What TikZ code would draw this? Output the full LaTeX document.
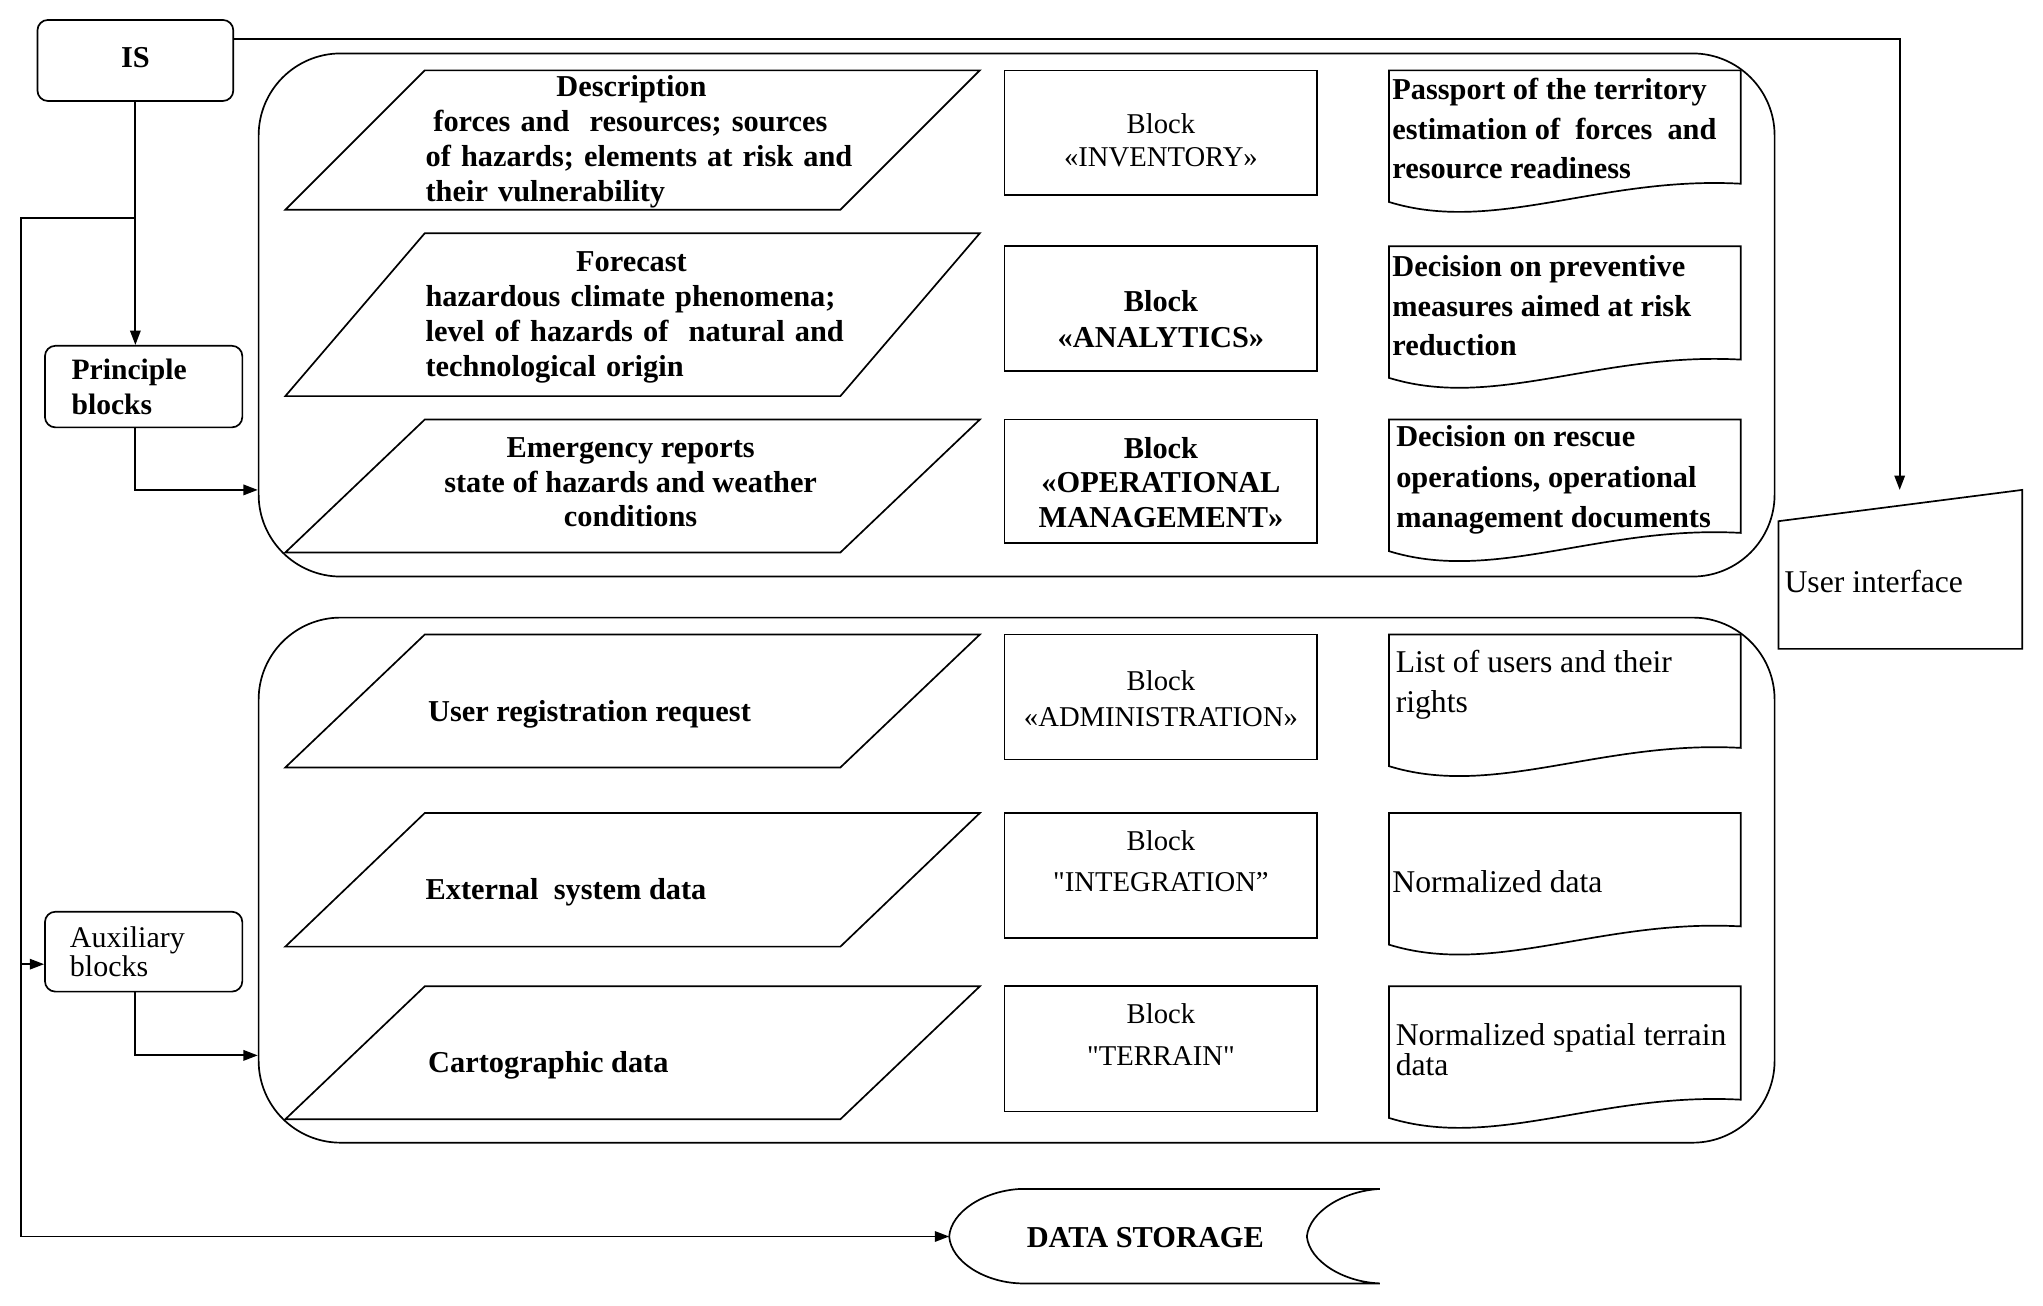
\documentclass[tikz,border=0pt]{standalone}
\usepackage{fontspec}
\setmainfont{Liberation Serif}
\newfontfamily\rawq{Liberation Serif}
\usetikzlibrary{arrows.meta}
\newcommand\setfs[2]{\fontsize{#1pt}{#2pt}\selectfont}
\newcommand\sq{{\rawq"}}
\newcommand\parashape[2]{\draw (219,#2) -- (326,#1) -- (752,#1) -- (645,#2) -- cycle;}
\newcommand\docshape[1]{\draw (1066,#1) -- (1336,#1) -- (1336,#1+87) .. controls (1228,#1+81) and (1147,#1+126) .. (1066,#1+101) -- cycle;}
\begin{document}
\begin{tikzpicture}[x=1pt,y=-1pt,line width=1.3pt,
  txt/.style={inner sep=0pt},
  arr/.style={-{Triangle[length=11pt,width=8pt]},line width=1.4pt},
  grp/.style={draw,rounded corners=63pt,minimum width=1163.5pt,inner sep=0pt},
  blk/.style={draw,minimum width=240pt,inner sep=0pt},
  rbox/.style={draw,rounded corners=8pt,minimum width=151.5pt,inner ysep=0pt,align=left},
  bt/.style={txt,font=\setfs{23.3}{#1}\bfseries},
  rt/.style={txt,font=\setfs{22}{#1}},
  dt/.style={txt,font=\setfs{24.3}{#1}},
]
\fill[white] (0,0) rectangle (1568,1001.6);
\useasboundingbox (0,0) rectangle (1568,1001.6);

% ---- left column ----
\node[draw,rounded corners=8pt,minimum width=150.3pt,minimum height=62.2pt,inner sep=0pt,
      font=\setfs{23.3}{27}\bfseries] (is) at (103.9,46.4) {\raisebox{5pt}{IS}};
\node[rbox,minimum height=62.6pt,inner xsep=20.5pt,text width=110.5pt,
      font=\setfs{22.7}{26.9}\bfseries] (pri) at (110.25,296.7) {Principle\\blocks};
\node[rbox,minimum height=61.3pt,inner xsep=19.2pt,text width=113.1pt,
      font=\setfs{23}{21.7}] (aux) at (110.25,730.4) {Auxiliary\\blocks};

% ---- groups ----
\node[grp,minimum height=401.5pt] (upper) at (780.25,241.75) {};
\node[grp,minimum height=403pt] (lower) at (780.25,675.5) {};

% ---- parallelograms ----
\parashape{54}{161}
\parashape{179}{304}
\parashape{322}{424}
\parashape{487}{589}
\parashape{624}{726.5}
\parashape{757}{859}

\node[bt=27,anchor=west,text width=340pt,align=left] (p1t) at (326,108.75)
  {\makebox[316pt]{Description}\\\hspace*{6pt}forces and~ resources; sources\\of hazards; elements at risk and\\their vulnerability};
\node[bt=27,anchor=west,text width=340pt,align=left] (p2t) at (326,243.5)
  {\makebox[316pt]{Forecast}\\hazardous climate phenomena;\\level of hazards of~ natural and\\technological origin};
\node[bt=26.5,align=center] (p3t) at (484,370.3)
  {Emergency reports\\state of hazards and weather\\conditions};
\node[bt=27,anchor=base west] (p4t) at (328,553.8) {User registration request};
\node[bt=27,anchor=base west] (p5t) at (326,690.2) {External~ system data};
\node[bt=27,anchor=base west] (p6t) at (328,823.2) {Cartographic data};

% ---- blocks ----
\node[blk,minimum height=95.5pt] (b1) at (891,101.75) {};
\node[blk,minimum height=96pt] (b2) at (891,237) {};
\node[blk,minimum height=95pt] (b3) at (891,369.5) {};
\node[blk,minimum height=96pt] (b4) at (891,535) {};
\node[blk,minimum height=96pt] (b5) at (891,672) {};
\node[blk,minimum height=96pt] (b6) at (891,805) {};

\node[rt=25.6,align=center] (b1t) at (891,107.5) {Block\\«INVENTORY»};
\node[bt=28,align=center] (b2t) at (891,245) {Block\\«ANALYTICS»};
\node[bt=26.5,align=center] (b3t) at (891,370.3) {Block\\«OPERATIONAL\\MANAGEMENT»};
\node[rt=27.7,align=center] (b4t) at (891,536) {Block\\«ADMINISTRATION»};
\node[rt=31.5,align=center] (b5t) at (891,660.8) {Block\\\sq INTEGRATION”};
\node[rt=31.5,align=center] (b6t) at (891,794) {Block\\\sq TERRAIN\sq};

% ---- documents ----
\docshape{54}
\docshape{189}
\docshape{322}
\docshape{487}
\docshape{624}
\docshape{757}

\node[bt=30.5,anchor=west,align=left] (d1t) at (1068,98.7)
  {Passport of the territory\\estimation of~ forces~ and\\resource readiness};
\node[bt=30.5,anchor=west,align=left] (d2t) at (1068,234.7)
  {Decision on preventive\\measures aimed at risk\\reduction};
\node[bt=31,anchor=west,align=left] (d3t) at (1071,368.3)
  {Decision on rescue\\operations, operational\\management documents};
\node[dt=31,anchor=west,align=left] (d4t) at (1070.6,525.5)
  {List of users and their\\rights};
\node[dt=29,anchor=base west] (d5t) at (1068,685) {Normalized data};
\node[dt=15.5,anchor=west,align=left] (d6t) at (1070.6,805.5)
  {Normalized spatial terrain\\data};

% ---- user interface ----
\draw (1365,400) -- (1552,376) -- (1552,498) -- (1365,498) -- cycle;
\node[dt=29,anchor=base west] (ui) at (1369,455) {User interface};
\coordinate (uitop) at (1458,376);

% ---- data storage ----
\draw (783,912.5) -- (1059,912.5)
  .. controls (1031,914) and (1005,930) .. (1003,949)
  .. controls (1005,968) and (1031,984) .. (1059,985)
  -- (783,985)
  .. controls (755,984) and (730,968) .. (728.5,949)
  .. controls (730,930) and (755,914) .. (783,912.5) -- cycle;
\node[bt=27] (ds) at (879,950) {DATA STORAGE};
\coordinate (dsin) at (728.5,949);

% ---- connectors ----
\coordinate (br) at (is.south |- 0,167);
\coordinate (lft) at (16,167);
\coordinate (auxin) at ([yshift=-9.6pt]aux.west);
\coordinate (upin) at ([yshift=-134.25pt]upper.west);
\coordinate (lowin) at ([yshift=-134.5pt]lower.west);

\draw[arr] (is.south) -- (pri.north -| is.south);
\draw[arr] (br) -- (lft) -- (lft |- dsin) -- (dsin);
\draw[arr] (lft |- auxin) -- (auxin);
\draw[arr] (pri.south -| is.south) |- (upin);
\draw[arr] (aux.south -| is.south) |- (lowin);
\draw[arr] ([yshift=16.4pt]is.east) -| (uitop);
\end{tikzpicture}
\end{document}
